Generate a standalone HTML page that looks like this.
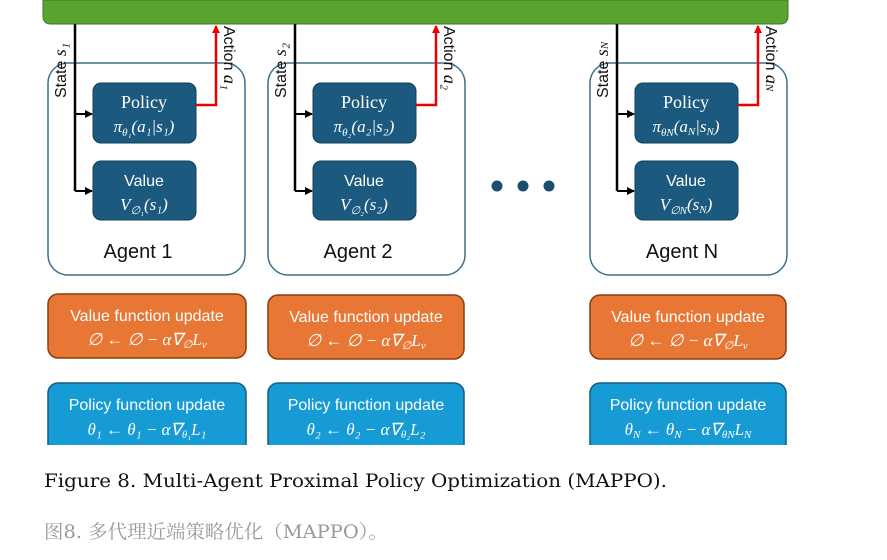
<!DOCTYPE html>
<html><head><meta charset="utf-8"><style>
body{margin:0;background:#fff;width:887px;height:560px;overflow:hidden}
svg{display:block}
.ag{font-family:"Liberation Sans",sans-serif;font-size:20px;fill:#111}
.w{font-family:"Liberation Sans",sans-serif;fill:#fff;font-size:16px}
.ws{font-family:"Liberation Serif",serif;fill:#fff;font-size:18px}
.m{font-family:"Liberation Serif",serif;font-style:italic;fill:#fff;font-size:17px}
.r{font-family:"Liberation Sans",sans-serif;font-size:16px;fill:#111}
</style></head><body>
<svg width="887" height="560" viewBox="0 0 887 560">
<defs>
<marker id="ab" markerWidth="8" markerHeight="8" refX="7" refY="4" orient="auto" markerUnits="userSpaceOnUse"><path d="M0,0 L8,4 L0,8 z" fill="#000"/></marker>
<marker id="ar" markerWidth="8" markerHeight="8" refX="7" refY="4" orient="auto" markerUnits="userSpaceOnUse"><path d="M0,0 L8,4 L0,8 z" fill="#e00"/></marker>
<clipPath id="c"><rect x="0" y="0" width="887" height="445"/></clipPath>
</defs>
<path d="M43,0 H788 V16 Q788,24 780,24 H51 Q43,24 43,16 Z" fill="#5aa332" stroke="#3f7a22"/>
<g clip-path="url(#c)">
<g id="a1">
<rect x="48" y="63" width="197" height="212" rx="20" fill="#fff" stroke="#3d6f8a" stroke-width="1.5"/>
<rect x="93" y="83" width="103" height="60" rx="8" fill="#1b5a7e" stroke="#123f5a"/>
<rect x="93" y="161" width="103" height="59" rx="8" fill="#1b5a7e" stroke="#123f5a"/>
<path d="M75,24 V191" stroke="#000" stroke-width="2.5" fill="none"/>
<path d="M75,114 H92" stroke="#000" stroke-width="2" marker-end="url(#ab)"/>
<path d="M75,191 H92" stroke="#000" stroke-width="2" marker-end="url(#ab)"/>
<path d="M196,105 H216 V26" stroke="#e00" stroke-width="2.5" fill="none" marker-end="url(#ar)"/>
<text class="ws" x="144" y="108" text-anchor="middle">Policy</text>
<text class="w" x="144" y="186" text-anchor="middle">Value</text>
</g>
<text class="m" x="144" y="132" text-anchor="middle">π<tspan font-size="11" dy="4">θ₁</tspan><tspan dy="-4">(a₁|s₁)</tspan></text>
<text class="m" x="144" y="210" text-anchor="middle">V<tspan font-size="11" dy="4">∅₁</tspan><tspan dy="-4">(s₁)</tspan></text>
<text class="ag" x="138" y="258" text-anchor="middle">Agent 1</text>
<text class="r" transform="translate(66,98) rotate(-90)">State <tspan font-family="Liberation Serif" font-style="italic" font-size="18">s₁</tspan></text>
<text class="r" transform="translate(224,26) rotate(90)">Action <tspan font-family="Liberation Serif" font-style="italic" font-size="18">a₁</tspan></text>

<use href="#a1" transform="translate(220,0)"/>
<text class="m" x="364" y="132" text-anchor="middle">π<tspan font-size="11" dy="4">θ₂</tspan><tspan dy="-4">(a₂|s₂)</tspan></text>
<text class="m" x="364" y="210" text-anchor="middle">V<tspan font-size="11" dy="4">∅₂</tspan><tspan dy="-4">(s₂)</tspan></text>
<text class="ag" x="358" y="258" text-anchor="middle">Agent 2</text>
<text class="r" transform="translate(286,98) rotate(-90)">State <tspan font-family="Liberation Serif" font-style="italic" font-size="18">s₂</tspan></text>
<text class="r" transform="translate(444,26) rotate(90)">Action <tspan font-family="Liberation Serif" font-style="italic" font-size="18">a₂</tspan></text>

<use href="#a1" transform="translate(542,0)"/>
<text class="m" x="686" y="132" text-anchor="middle">π<tspan font-size="11" dy="4">θN</tspan><tspan dy="-4">(a</tspan><tspan font-size="11" dy="3">N</tspan><tspan dy="-3">|s</tspan><tspan font-size="11" dy="3">N</tspan><tspan dy="-3">)</tspan></text>
<text class="m" x="686" y="210" text-anchor="middle">V<tspan font-size="11" dy="4">∅N</tspan><tspan dy="-4">(s</tspan><tspan font-size="11" dy="3">N</tspan><tspan dy="-3">)</tspan></text>
<text class="ag" x="682" y="258" text-anchor="middle">Agent N</text>
<text class="r" transform="translate(608,98) rotate(-90)">State <tspan font-family="Liberation Serif" font-style="italic" font-size="18">s</tspan><tspan font-family="Liberation Serif" font-style="italic" font-size="11">N</tspan></text>
<text class="r" transform="translate(766,26) rotate(90)">Action <tspan font-family="Liberation Serif" font-style="italic" font-size="18">a</tspan><tspan font-family="Liberation Serif" font-style="italic" font-size="11">N</tspan></text>

<circle cx="497" cy="186" r="5.5" fill="#1b4f6e"/>
<circle cx="523" cy="186" r="5.5" fill="#1b4f6e"/>
<circle cx="549" cy="186" r="5.5" fill="#1b4f6e"/>

<rect x="48" y="294" width="198" height="64" rx="10" fill="#e87634" stroke="#8a3f12" stroke-width="1.5"/>
<rect x="268" y="295" width="196" height="64" rx="10" fill="#e87634" stroke="#8a3f12" stroke-width="1.5"/>
<rect x="590" y="295" width="196" height="64" rx="10" fill="#e87634" stroke="#8a3f12" stroke-width="1.5"/>
<text class="w" x="147" y="321" text-anchor="middle">Value function update</text>
<text class="m" x="147" y="345" text-anchor="middle">∅ ← ∅ − α∇<tspan font-size="11" dy="3">∅</tspan><tspan dy="-3">L</tspan><tspan font-size="11" dy="3">v</tspan></text>
<text class="w" x="366" y="322" text-anchor="middle">Value function update</text>
<text class="m" x="366" y="346" text-anchor="middle">∅ ← ∅ − α∇<tspan font-size="11" dy="3">∅</tspan><tspan dy="-3">L</tspan><tspan font-size="11" dy="3">v</tspan></text>
<text class="w" x="688" y="322" text-anchor="middle">Value function update</text>
<text class="m" x="688" y="346" text-anchor="middle">∅ ← ∅ − α∇<tspan font-size="11" dy="3">∅</tspan><tspan dy="-3">L</tspan><tspan font-size="11" dy="3">v</tspan></text>
<rect x="48" y="383" width="198" height="80" rx="10" fill="#169bd5" stroke="#0f5f85" stroke-width="1.5"/>
<rect x="268" y="383" width="196" height="80" rx="10" fill="#169bd5" stroke="#0f5f85" stroke-width="1.5"/>
<rect x="590" y="383" width="196" height="80" rx="10" fill="#169bd5" stroke="#0f5f85" stroke-width="1.5"/>
<text class="w" x="147" y="410" text-anchor="middle">Policy function update</text>
<text class="m" x="147" y="435" text-anchor="middle">θ₁ ← θ₁ − α∇<tspan font-size="11" dy="3">θ₁</tspan><tspan dy="-3">L₁</tspan></text>
<text class="w" x="366" y="410" text-anchor="middle">Policy function update</text>
<text class="m" x="366" y="435" text-anchor="middle">θ₂ ← θ₂ − α∇<tspan font-size="11" dy="3">θ₂</tspan><tspan dy="-3">L₂</tspan></text>
<text class="w" x="688" y="410" text-anchor="middle">Policy function update</text>
<text class="m" x="688" y="435" text-anchor="middle">θ<tspan font-size="11" dy="3">N</tspan><tspan dy="-3"> ← θ</tspan><tspan font-size="11" dy="3">N</tspan><tspan dy="-3"> − α∇</tspan><tspan font-size="11" dy="3">θN</tspan><tspan dy="-3">L</tspan><tspan font-size="11" dy="3">N</tspan></text>
</g>
<text x="44" y="487" font-family="DejaVu Serif, serif" font-size="19" fill="#111" textLength="623" lengthAdjust="spacingAndGlyphs">Figure 8. Multi-Agent Proximal Policy Optimization (MAPPO).</text>
<text x="44" y="538" font-family="DejaVu Serif, 'Noto Serif CJK SC', serif" font-size="19" fill="#999" textLength="344" lengthAdjust="spacingAndGlyphs">图8. 多代理近端策略优化（MAPPO）。</text>
</svg>
</body></html>
